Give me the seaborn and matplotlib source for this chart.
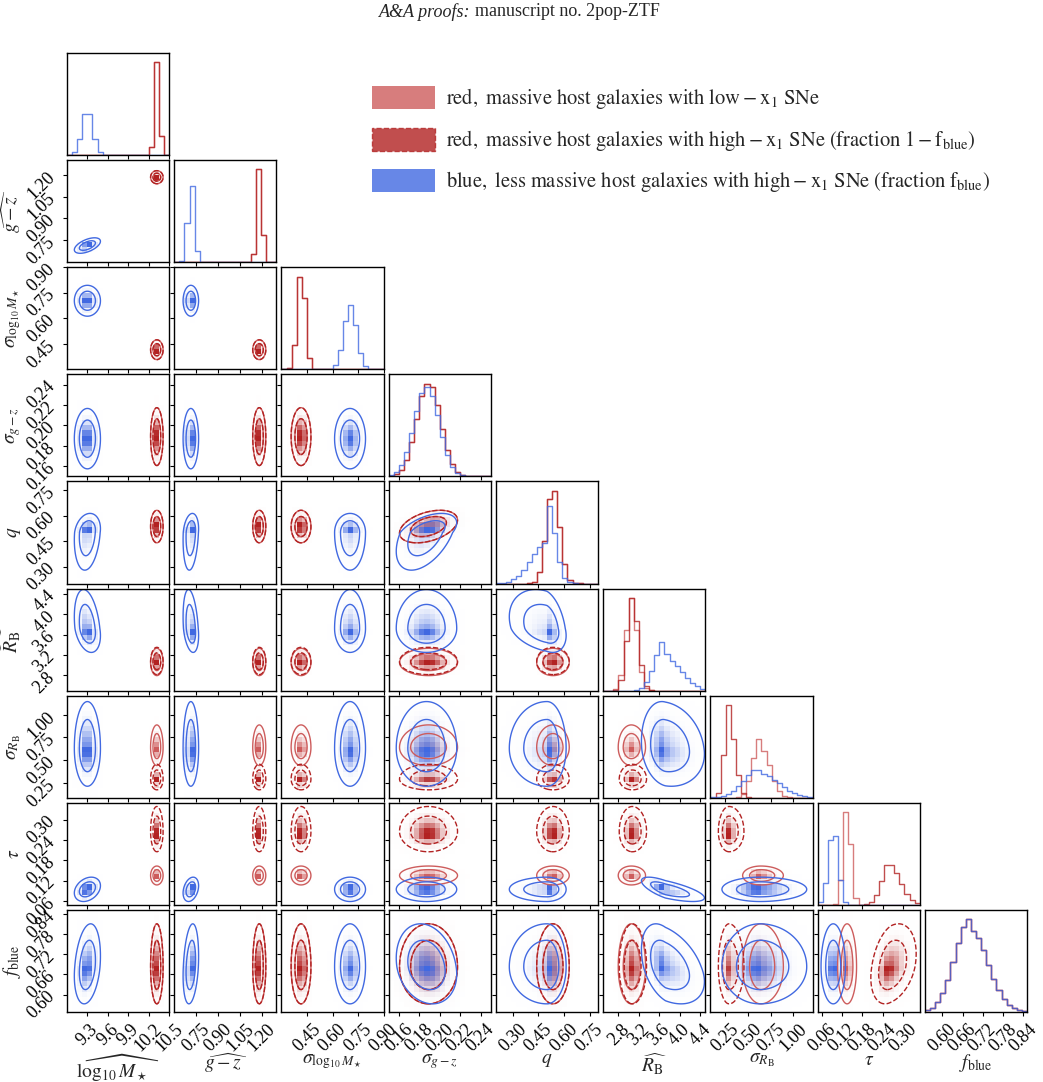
import math
import numpy as np
import pandas as pd
import matplotlib
matplotlib.use("Agg")
import matplotlib.pyplot as plt
import seaborn as sns
from matplotlib.colors import LinearSegmentedColormap, to_rgba
from matplotlib.patches import Patch

# AXES
labels = [r"$\widehat{\log_{10}M_\star}$", r"$\widehat{g-z}$", r"$\sigma_{\log_{10}M_\star}$",
          r"$\sigma_{g-z}$", r"$q$", r"$\widehat{R_{\rm B}}$", r"$\sigma_{R_{\rm B}}$",
          r"$\tau$", r"$f_{\rm blue}$"]
lo = [9.0, 0.6, 0.3, 0.15, 0.2, 2.5, 0.085, 0.048, 0.548]
hi = [10.5, 1.3, 0.9, 0.25, 0.8, 4.5, 1.21, 0.35, 0.852]
ticks = [[9.3, 9.6, 9.9, 10.2, 10.5], [0.75, 0.90, 1.05, 1.20], [0.45, 0.60, 0.75, 0.90],
         [0.16, 0.18, 0.20, 0.22, 0.24], [0.30, 0.45, 0.60, 0.75], [2.8, 3.2, 3.6, 4.0, 4.4],
         [0.25, 0.50, 0.75, 1.00], [0.06, 0.12, 0.18, 0.24, 0.30], [0.60, 0.66, 0.72, 0.78, 0.84]]
tick_dec = [1, 2, 2, 2, 2, 1, 2, 2, 2]

# POSTERIORS (peak, lower width, upper width)
redlo_peak = [10.32, 1.183, 0.415, 0.189, 0.535, 3.05, 0.64, 0.135, 0.683]
redlo_sdlo = [0.030, 0.015, 0.022, 0.0115, 0.038, 0.10, 0.08, 0.0105, 0.045]
redlo_sdhi = [0.030, 0.015, 0.022, 0.0115, 0.038, 0.11, 0.10, 0.0105, 0.052]

redhi_peak = [10.32, 1.183, 0.415, 0.189, 0.535, 3.07, 0.29, 0.265, 0.683]
redhi_sdlo = [0.030, 0.015, 0.022, 0.0115, 0.038, 0.10, 0.045, 0.024, 0.045]
redhi_sdhi = [0.030, 0.015, 0.022, 0.0115, 0.038, 0.11, 0.065, 0.030, 0.052]

blue_peak = [9.30, 0.714, 0.703, 0.187, 0.50, 3.72, 0.63, 0.094, 0.683]
blue_sdlo = [0.075, 0.019, 0.036, 0.012, 0.090, 0.19, 0.17, 0.014, 0.045]
blue_sdhi = [0.075, 0.019, 0.036, 0.012, 0.045, 0.31, 0.21, 0.014, 0.052]

# correlations between parameter pairs
blue_pairs = [(0, 1), (0, 4), (1, 4), (0, 5), (1, 5), (0, 7), (1, 7), (0, 8), (1, 8),
              (3, 4), (4, 5), (5, 6), (5, 7), (5, 8), (3, 8)]
blue_rho = [0.55, 0.2, 0.2, -0.3, -0.3, 0.3, 0.3, 0.25, 0.25, 0.5, -0.3, -0.15, -0.7, -0.4, -0.2]
redlo_pairs = [(3, 4)]
redlo_rho = [0.4]
redhi_pairs = [(3, 4), (7, 8)]
redhi_rho = [0.4, 0.3]

pops = [
    dict(peak=redlo_peak, sdlo=redlo_sdlo, sdhi=redlo_sdhi, pairs=redlo_pairs, rho=redlo_rho,
         color="indianred", ls="solid"),
    dict(peak=redhi_peak, sdlo=redhi_sdlo, sdhi=redhi_sdhi, pairs=redhi_pairs, rho=redhi_rho,
         color="firebrick", ls="dashed"),
    dict(peak=blue_peak, sdlo=blue_sdlo, sdhi=blue_sdhi, pairs=blue_pairs, rho=blue_rho,
         color="royalblue", ls="solid"),
]

nbins = 20
smooth = 0.3
levels = [-2 * np.log(1 - 0.68), -2 * np.log(1 - 0.95)]

erf_v = np.vectorize(math.erf)


def Phi(z):
    return 0.5 * (1 + erf_v(z / np.sqrt(2)))


def zscore(x, k, p, extra=0.0):
    s = np.where(x < p["peak"][k], p["sdlo"][k], p["sdhi"][k])
    s = np.sqrt(s ** 2 + extra ** 2)
    return (x - p["peak"][k]) / s, s


def corr(p, i, j):
    for (a, b), r in zip(p["pairs"], p["rho"]):
        if (a, b) == (i, j) or (a, b) == (j, i):
            return r
    return 0.0


sns.set_theme(style="ticks")
plt.rcParams["font.family"] = ["Liberation Serif", "DejaVu Serif"]
plt.rcParams["mathtext.fontset"] = "stix"
plt.rcParams.update({
    "axes.edgecolor": "black", "axes.linewidth": 1.0,
    "xtick.color": "black", "ytick.color": "black",
    "xtick.major.size": 3, "ytick.major.size": 3,
    "xtick.major.width": 0.8, "ytick.major.width": 0.8,
    "xtick.labelsize": 13, "ytick.labelsize": 13,
})

n = len(labels)
fig, axes = plt.subplots(n, n, figsize=(10.43, 10.82), dpi=100)
fig.subplots_adjust(left=0.0642, right=0.9847, bottom=0.0647, top=0.951, wspace=0.05, hspace=0.05)

for i in range(n):
    for j in range(n):
        ax = axes[i, j]
        if j > i:
            ax.set_visible(False)
            continue
        xe = np.linspace(lo[j], hi[j], nbins + 1)
        xc = 0.5 * (xe[1:] + xe[:-1])
        if i == j:
            # 1D histograms
            top = 0
            for p in pops:
                probs = np.diff(Phi(zscore(xe, j, p)[0]))
                df1 = pd.DataFrame({"x": xc, "w": probs})
                sns.histplot(data=df1, x="x", weights="w", bins=list(xe), element="step",
                             fill=False, color=p["color"], linewidth=1.0, alpha=0.8, ax=ax)
                top = max(top, probs.max())
            ax.set_ylim(0, 1.1 * top)
            ax.set_yticks([])
        else:
            ye = np.linspace(lo[i], hi[i], nbins + 1)
            yc = 0.5 * (ye[1:] + ye[:-1])
            XC, YC = np.meshgrid(xc, yc, indexing="ij")
            sub = 4
            xs = lo[j] + (np.arange(nbins * sub) + 0.5) * (hi[j] - lo[j]) / (nbins * sub)
            ys = lo[i] + (np.arange(nbins * sub) + 0.5) * (hi[i] - lo[i]) / (nbins * sub)
            # 2D density cells
            for p in pops:
                r = corr(p, i, j)
                zx, sx = zscore(xs, j, p)
                zy, sy = zscore(ys, i, p)
                ZX, ZY = np.meshgrid(zx, zy, indexing="ij")
                dens = np.exp(-0.5 * (ZX ** 2 - 2 * r * ZX * ZY + ZY ** 2) / (1 - r ** 2))
                dens = dens / (sx[:, None] * sy[None, :])
                cells = dens.reshape(nbins, sub, nbins, sub).sum(axis=(1, 3))
                cmap = LinearSegmentedColormap.from_list("d", [(1, 1, 1, 0), to_rgba(p["color"])])
                df2 = pd.DataFrame({"x": XC.ravel(), "y": YC.ravel(), "w": cells.ravel()})
                sns.histplot(data=df2, x="x", y="y", weights="w", bins=[list(xe), list(ye)],
                             cmap=cmap, ax=ax)
            # contours
            gx = np.linspace(lo[j], hi[j], 160)
            gy = np.linspace(lo[i], hi[i], 160)
            for p in pops:
                r = corr(p, i, j)
                zx, _ = zscore(gx, j, p, smooth * (hi[j] - lo[j]) / nbins)
                zy, _ = zscore(gy, i, p, smooth * (hi[i] - lo[i]) / nbins)
                ZX, ZY = np.meshgrid(zx, zy)
                M = (ZX ** 2 - 2 * r * ZX * ZY + ZY ** 2) / (1 - r ** 2)
                ax.contour(gx, gy, M, levels=levels, colors=[p["color"]], linewidths=1.0,
                           linestyles=p["ls"])
            ax.set_ylim(lo[i], hi[i])
            ax.set_yticks(ticks[i])
            if j == 0:
                ax.set_yticklabels([f"{t:.{tick_dec[i]}f}" for t in ticks[i]], rotation=45)
            else:
                ax.set_yticklabels([])
        ax.set_xlim(lo[j], hi[j])
        ax.set_xticks(ticks[j])
        if i == n - 1:
            ax.set_xticklabels([f"{t:.{tick_dec[j]}f}" for t in ticks[j]], rotation=45)
            ax.set_xlabel(labels[j], fontsize=14)
            ax.xaxis.set_label_coords(0.5, -0.39)
        else:
            ax.set_xticklabels([])
            ax.set_xlabel("")
        if j == 0 and i > 0:
            ax.set_ylabel(labels[i], fontsize=14)
            ax.yaxis.set_label_coords(-0.43, 0.5)
        else:
            ax.set_ylabel("")

# LEGEND
handles = [
    Patch(facecolor="indianred", edgecolor="none", alpha=0.8),
    Patch(facecolor="firebrick", edgecolor="firebrick", linestyle="--", linewidth=1.0, alpha=0.8),
    Patch(facecolor="royalblue", edgecolor="none", alpha=0.8),
]
leg_labels = [
    r"$\mathrm{red,\ massive\ host\ galaxies\ with\ low-x_1\ SNe}$",
    r"$\mathrm{red,\ massive\ host\ galaxies\ with\ high-x_1\ SNe\ (fraction\ 1-f_{blue})}$",
    r"$\mathrm{blue,\ less\ massive\ host\ galaxies\ with\ high-x_1\ SNe\ (fraction\ f_{blue})}$",
]
fig.legend(handles, leg_labels, loc="upper left", bbox_to_anchor=(0.3567, 0.9205), frameon=False,
           fontsize=14.8, handlelength=3.06, handleheight=1.36, handletextpad=0.55,
           labelspacing=0.78, borderpad=0, borderaxespad=0)

# page header
fig.text(470 / 1043, 0.989, "A&A proofs:", style="italic", ha="right", va="center", fontsize=13)
fig.text(475 / 1043, 0.989, "manuscript no. 2pop-ZTF", ha="left", va="center", fontsize=13)

plt.savefig("out.png", dpi=100)
